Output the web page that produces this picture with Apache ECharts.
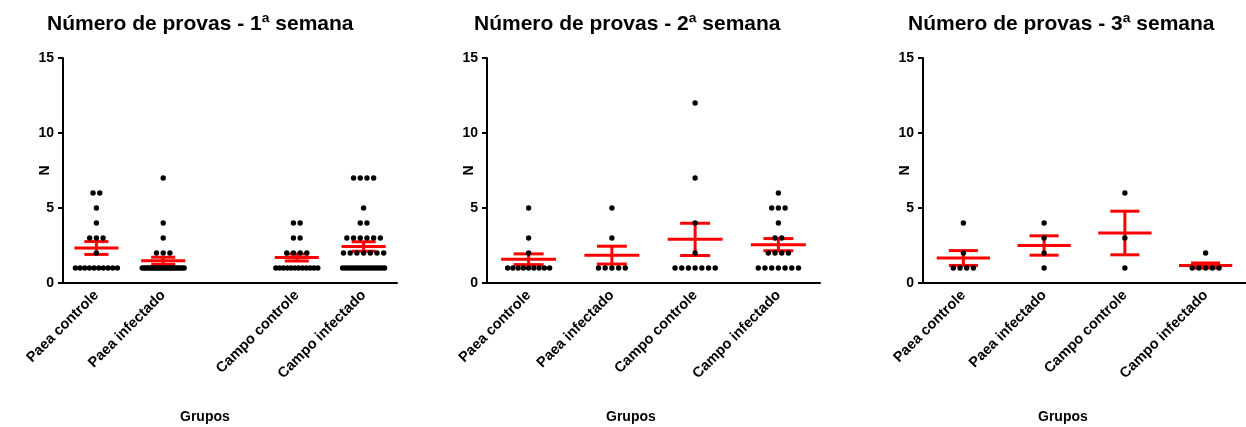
<!DOCTYPE html>
<html>
<head>
<meta charset="utf-8">
<title>Número de provas</title>
<script src="https://cdn.jsdelivr.net/npm/echarts@6/dist/echarts.min.js"></script>
<style>
  html, body { margin: 0; padding: 0; background: #fff; }
  #chart { width: 1246px; height: 427px; }
</style>
</head>
<body>
<div id="chart"></div>
<script>
// Group labels (week 1 leaves an empty slot between the Paea and Campo groups)
const groupsWeek1 = ['Paea controle', 'Paea infectado', '', 'Campo controle', 'Campo infectado'];
const groups = ['Paea controle', 'Paea infectado', 'Campo controle', 'Campo infectado'];
const titles = ['Número de provas - 1ª semana', 'Número de provas - 2ª semana', 'Número de provas - 3ª semana'];
const yTicks = [0, 5, 10, 15];

// Individual counts per animal
const w1PaeaControle = [6, 6, 5, 4, 3, 3, 3, 2, 1, 1, 1, 1, 1, 1, 1, 1, 1, 1];
const w1PaeaInfectado = [7, 4, 3, 2, 2, 2, 1, 1, 1, 1, 1, 1, 1, 1, 1, 1, 1, 1, 1, 1, 1, 1, 1, 1, 1, 1, 1, 1, 1];
const w1CampoControle = [4, 4, 3, 3, 2, 2, 2, 2, 1, 1, 1, 1, 1, 1, 1, 1, 1, 1, 1, 1];
const w1CampoInfectado = [7, 7, 7, 7, 5, 4, 4, 3, 3, 3, 3, 3, 3, 2, 2, 2, 2, 2, 2, 2,
  1, 1, 1, 1, 1, 1, 1, 1, 1, 1, 1, 1, 1, 1, 1, 1, 1];

const w2PaeaControle = [5, 3, 2, 1, 1, 1, 1, 1, 1, 1, 1, 1];
const w2PaeaInfectado = [5, 3, 1, 1, 1, 1, 1];
const w2CampoControle = [12, 7, 4, 2, 1, 1, 1, 1, 1, 1, 1];
const w2CampoInfectado = [6, 5, 5, 5, 4, 3, 3, 2, 2, 2, 2, 1, 1, 1, 1, 1, 1, 1];

const w3PaeaControle = [4, 2, 1, 1, 1, 1];
const w3PaeaInfectado = [4, 3, 2, 1];
const w3CampoControle = [6, 3, 1];
const w3CampoInfectado = [2, 1, 1, 1, 1, 1];

// [category index, values] for each panel
const panels = [
  [[0, w1PaeaControle], [1, w1PaeaInfectado], [3, w1CampoControle], [4, w1CampoInfectado]],
  [[0, w2PaeaControle], [1, w2PaeaInfectado], [2, w2CampoControle], [3, w2CampoInfectado]],
  [[0, w3PaeaControle], [1, w3PaeaInfectado], [2, w3CampoControle], [3, w3CampoInfectado]]
];

const FONT = '"Liberation Sans", Arial, Helvetica, sans-serif';

// Scatter points: equal values are spread sideways in a row
function dotItems(panel) {
  const items = [];
  panel.forEach(([cat, vals]) => {
    const counts = {};
    vals.forEach(v => { counts[v] = (counts[v] || 0) + 1; });
    const seen = {};
    vals.forEach(v => {
      const k = seen[v] || 0;
      seen[v] = k + 1;
      items.push([cat, v, k, counts[v]]);
    });
  });
  return items;
}

// Mean and standard error of the mean per group
function statItems(panel) {
  return panel.map(([cat, vals]) => {
    const n = vals.length;
    const mean = vals.reduce((a, b) => a + b, 0) / n;
    const sd = Math.sqrt(vals.reduce((a, b) => a + (b - mean) * (b - mean), 0) / (n - 1));
    return [cat, mean, sd / Math.sqrt(n)];
  });
}

function renderDot(params, api) {
  const p = api.coord([api.value(0), api.value(1)]);
  const k = api.value(2), n = api.value(3);
  const step = n > 1 ? Math.min(6.7, 42 / (n - 1)) : 0;
  return {
    type: 'circle',
    shape: { cx: p[0] + (k - (n - 1) / 2) * step, cy: p[1], r: 2.7 },
    style: { fill: '#000' }
  };
}

function renderMeanSem(params, api) {
  const cat = api.value(0), mean = api.value(1), sem = api.value(2);
  const band = api.size([1, 0])[0];
  const pm = api.coord([cat, mean]);
  const pt = api.coord([cat, mean + sem]);
  const pb = api.coord([cat, mean - sem]);
  const half = band * 0.33, cap = band * 0.18;
  const st = { stroke: '#ff0000', lineWidth: 3 };
  return {
    type: 'group',
    children: [
      { type: 'line', shape: { x1: pm[0], y1: pt[1], x2: pm[0], y2: pb[1] }, style: st },
      { type: 'line', shape: { x1: pm[0] - cap, y1: pt[1], x2: pm[0] + cap, y2: pt[1] }, style: st },
      { type: 'line', shape: { x1: pm[0] - cap, y1: pb[1], x2: pm[0] + cap, y2: pb[1] }, style: st },
      { type: 'line', shape: { x1: pm[0] - half, y1: pm[1], x2: pm[0] + half, y2: pm[1] }, style: st }
    ]
  };
}

const gridPos = [
  { left: 63, width: 334 },
  { left: 487, width: 333 },
  { left: 923, width: 335 }
];
const titleLeft = [47, 474, 908];
const xNameLeft = [180, 606, 1038];

const axisLine = { lineStyle: { color: '#000', width: 2 } };

const option = {
  backgroundColor: '#fff',
  animation: false,
  title: [
    ...titles.map((t, i) => ({
      text: t, left: titleLeft[i], top: 14, padding: 0,
      textStyle: { fontFamily: FONT, fontWeight: 'bold', fontSize: 21, color: '#000' }
    })),
    ...xNameLeft.map(l => ({
      text: 'Grupos', left: l, top: 410, padding: 0,
      textStyle: { fontFamily: FONT, fontWeight: 'bold', fontSize: 14, color: '#000' }
    }))
  ],
  grid: gridPos.map(g => ({ left: g.left, width: g.width, top: 58, bottom: 144 })),
  xAxis: [0, 1, 2].map(i => ({
    type: 'category',
    gridIndex: i,
    data: i === 0 ? groupsWeek1 : groups,
    boundaryGap: true,
    axisLine: axisLine,
    axisTick: {
      alignWithLabel: true, length: 5,
      lineStyle: { color: '#000', width: 2 },
      interval: i === 0 ? (idx, val) => val !== '' : 0
    },
    axisLabel: {
      interval: 0, rotate: 45, margin: 10,
      fontFamily: FONT, fontWeight: 'bold', fontSize: 14.5, color: '#000'
    },
    splitLine: { show: false }
  })),
  yAxis: [0, 1, 2].map(i => ({
    type: 'value',
    gridIndex: i,
    min: yTicks[0], max: yTicks[yTicks.length - 1], interval: 5,
    name: 'N', nameLocation: 'middle', nameGap: 11, nameRotate: 90,
    nameMoveOverlap: false,
    nameTextStyle: { fontFamily: FONT, fontWeight: 'bold', fontSize: 14, color: '#000' },
    axisLine: { show: true, lineStyle: { color: '#000', width: 2 } },
    axisTick: { show: true, length: 5, lineStyle: { color: '#000', width: 2 } },
    axisLabel: { margin: 9, fontFamily: FONT, fontWeight: 'bold', fontSize: 14, color: '#000' },
    splitLine: { show: false }
  })),
  series: [
    ...panels.map((p, i) => ({
      type: 'custom', xAxisIndex: i, yAxisIndex: i,
      renderItem: renderMeanSem, data: statItems(p), z: 2,
      encode: { x: 0, y: 1 }
    })),
    ...panels.map((p, i) => ({
      type: 'custom', xAxisIndex: i, yAxisIndex: i,
      renderItem: renderDot, data: dotItems(p), z: 3,
      encode: { x: 0, y: 1 }
    }))
  ]
};

const chart = echarts.init(document.getElementById('chart'), null, { renderer: 'canvas' });
chart.setOption(option);
</script>
</body>
</html>
